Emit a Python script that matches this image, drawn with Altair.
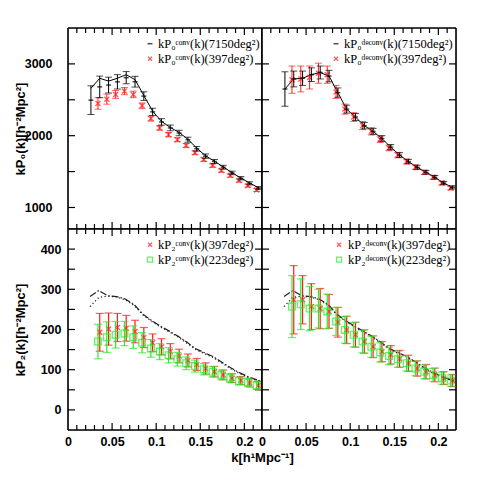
import altair as alt
import pandas as pd

# ---------------- data ----------------
K_BLACK = [0.026, 0.036, 0.046, 0.056, 0.066, 0.076, 0.086, 0.096, 0.106, 0.116,
           0.126, 0.136, 0.146, 0.156, 0.166, 0.176, 0.186, 0.196, 0.206, 0.216]
K_RED = [0.034, 0.044, 0.054, 0.064, 0.074, 0.084, 0.094, 0.104, 0.114, 0.124,
         0.134, 0.144, 0.154, 0.164, 0.174, 0.184, 0.194, 0.204, 0.214]
K_RED2 = [0.036, 0.046, 0.056, 0.066, 0.076, 0.086, 0.096, 0.106, 0.116, 0.126,
          0.136, 0.146, 0.156, 0.166, 0.176, 0.186, 0.196, 0.206, 0.216]
K_GREEN = [0.034, 0.044, 0.054, 0.064, 0.074, 0.084, 0.094, 0.104, 0.114, 0.124,
           0.134, 0.144, 0.154, 0.164, 0.174, 0.184, 0.194, 0.204, 0.214]
K_LINE = [0.025, 0.035, 0.045, 0.055, 0.065, 0.075, 0.085, 0.095, 0.105, 0.115,
          0.125, 0.135, 0.145, 0.155, 0.165, 0.175, 0.185, 0.195, 0.205, 0.215, 0.22]

# top-left: conv monopole
P0_CONV_7150 = [2495, 2680, 2705, 2750, 2808, 2752, 2551, 2332, 2192, 2108,
                2037, 1944, 1818, 1715, 1640, 1561, 1481, 1407, 1336, 1271]
P0_CONV_7150_ERR = [200, 150, 110, 100, 85, 75, 60, 50, 45, 40,
                    38, 35, 32, 30, 28, 26, 25, 23, 22, 20]
P0_CONV_LINE = [2660, 2800, 2760, 2800, 2850, 2780, 2560, 2340, 2200, 2115,
                2045, 1950, 1825, 1720, 1645, 1565, 1485, 1410, 1340, 1275]
P0_CONV_397 = [2449, 2509, 2575, 2621, 2575, 2416, 2238, 2108, 2014, 1944,
               1864, 1762, 1668, 1584, 1514, 1444, 1374, 1304, 1243]
P0_CONV_397_ERR = [80, 70, 55, 50, 45, 40, 35, 32, 30, 28,
                   27, 26, 25, 24, 23, 22, 21, 20, 20]

# top-right: deconv monopole
P0_DECONV_7150 = [2650, 2790, 2800, 2850, 2880, 2830, 2600, 2370, 2260, 2140,
                  2060, 1960, 1840, 1730, 1640, 1560, 1490, 1420, 1340, 1280]
P0_DECONV_7150_ERR = [240, 110, 100, 95, 90, 80, 65, 55, 50, 45,
                      42, 40, 36, 33, 30, 28, 26, 25, 23, 22]
P0_DECONV_397 = [2780, 2790, 2810, 2870, 2850, 2610, 2370, 2260, 2140, 2060,
                 1950, 1830, 1730, 1640, 1560, 1490, 1420, 1340, 1270]
P0_DECONV_397_ERR = [190, 180, 160, 140, 120, 90, 70, 60, 55, 50,
                     45, 40, 38, 35, 33, 30, 28, 26, 25]

# bottom: quadrupole reference curves (7150 deg^2)
P2_LINE_DASH = [282, 297, 284, 282, 276, 262, 238, 222, 208, 196,
                183, 168, 152, 142, 132, 118, 104, 92, 82, 74, 70]
P2_LINE_DOT = [257, 280, 283, 281, 274, 260, 236, 220, 206, 194,
               181, 166, 150, 140, 130, 116, 102, 90, 80, 73, 70]

# bottom-left: conv quadrupole
P2_CONV_397 = [193, 201, 205, 203, 195, 180, 167, 157, 146, 134,
               123, 113, 103, 95, 87, 79, 73, 67, 61]
P2_CONV_397_ERR = [47, 40, 35, 32, 28, 25, 22, 20, 19, 17,
                   16, 15, 14, 13, 12, 11, 10, 10, 10]
P2_CONV_223 = [170, 181, 187, 190, 181, 167, 153, 145, 136, 126,
               116, 109, 101, 95, 87, 79, 72, 69, 61]
P2_CONV_223_ERR = [43, 38, 33, 30, 28, 25, 22, 20, 19, 17,
                   16, 15, 14, 13, 12, 11, 10, 10, 10]

# bottom-right: deconv quadrupole
P2_DECONV_397 = [274, 274, 257, 252, 245, 218, 199, 187, 170, 157,
                 145, 137, 127, 116, 103, 95, 87, 79, 73]
P2_DECONV_397_ERR = [85, 60, 57, 50, 42, 37, 34, 31, 29, 27,
                     25, 23, 21, 20, 19, 18, 17, 16, 15]
P2_DECONV_223 = [257, 263, 252, 252, 245, 220, 199, 187, 170, 157,
                 143, 134, 126, 116, 103, 95, 87, 79, 73]
P2_DECONV_223_ERR = [77, 63, 55, 48, 43, 35, 33, 30, 28, 26,
                     24, 22, 20, 19, 18, 17, 16, 15, 14]

# axes / ticks
X_DOMAIN = [0, 0.22]
Y_TOP_DOMAIN = [700, 3500]
Y_BOT_DOMAIN = [-50, 450]
X_LABELS = [0, 0.05, 0.1, 0.15, 0.2]
X_TICKS = [0.01, 0.02, 0.03, 0.04, 0.05, 0.06, 0.07, 0.08, 0.09, 0.10, 0.11,
           0.12, 0.13, 0.14, 0.15, 0.16, 0.17, 0.18, 0.19, 0.20, 0.21]
Y_TOP_LABELS = [1000, 2000, 3000]
Y_TOP_TICKS = [1000, 1500, 2000, 2500, 3000]
Y_BOT_LABELS = [0, 100, 200, 300, 400]
Y_BOT_TICKS = [0, 50, 100, 150, 200, 250, 300, 350, 400]

LEG_TL = ["kP₀ᶜᵒⁿᵛ(k)(7150deg²)", "kP₀ᶜᵒⁿᵛ(k)(397deg²)"]
LEG_TR = ["kP₀ᵈᵉᶜᵒⁿᵛ(k)(7150deg²)", "kP₀ᵈᵉᶜᵒⁿᵛ(k)(397deg²)"]
LEG_BL = ["kP₂ᶜᵒⁿᵛ(k)(397deg²)", "kP₂ᶜᵒⁿᵛ(k)(223deg²)"]
LEG_BR = ["kP₂ᵈᵉᶜᵒⁿᵛ(k)(397deg²)", "kP₂ᵈᵉᶜᵒⁿᵛ(k)(223deg²)"]
Y_TITLE_TOP = "kP₀(k)[h⁻²Mpc²]"
Y_TITLE_BOT = "kP₂(k)[h⁻²Mpc²]"
X_TITLE = "k[h¹Mpc⁻¹]"

# ---------------- styling ----------------
W, H = 194, 201
RED = "#ff1a1a"
GREEN = "#22ee22"
AX_FONT = "Liberation Sans"
LEG_FONT = "Liberation Serif"
X_MARK = "M-1,-1L1,1M-1,1L1,-1"

xs = alt.Scale(domain=X_DOMAIN, nice=False, zero=False)


def X(field, xa):
    return alt.X(f"{field}:Q", scale=xs, axis=xa)


def Y(field, ys, ya):
    return alt.Y(f"{field}:Q", scale=ys, axis=ya)


def errbars(k, v, e, color, ys, xa, ya, sw=1.0, capw=7):
    df = pd.DataFrame({"k": k, "v": v, "e": e})
    base = alt.Chart(df).transform_calculate(lo="datum.v - datum.e", hi="datum.v + datum.e")
    rule = base.mark_rule(color=color, strokeWidth=sw, clip=True).encode(
        x=X("k", xa), y=Y("lo", ys, ya), y2="hi:Q")
    lo = base.mark_tick(color=color, orient="horizontal", size=capw, thickness=sw, clip=True).encode(
        x=X("k", xa), y=Y("lo", ys, ya))
    hi = base.mark_tick(color=color, orient="horizontal", size=capw, thickness=sw, clip=True).encode(
        x=X("k", xa), y=Y("hi", ys, ya))
    return [rule, lo, hi]


def markers(k, v, kind, color, ys, xa, ya):
    df = pd.DataFrame({"k": k, "v": v})
    if kind == "dash":
        return alt.Chart(df).mark_tick(color=color, orient="horizontal", size=5, thickness=1.5,
                                       clip=True).encode(x=X("k", xa), y=Y("v", ys, ya))
    if kind == "x":
        return alt.Chart(df).mark_point(shape=X_MARK, color=color, filled=False, size=25,
                                        strokeWidth=1.4, clip=True).encode(x=X("k", xa), y=Y("v", ys, ya))
    return alt.Chart(df).mark_point(shape="square", color=color, filled=False, size=45,
                                    strokeWidth=1.3, clip=True).encode(x=X("k", xa), y=Y("v", ys, ya))


def line(k, v, ys, xa, ya, dash=None, color="black", sw=1.0):
    df = pd.DataFrame({"k": k, "v": v})
    kw = dict(color=color, strokeWidth=sw, clip=True)
    if dash:
        kw["strokeDash"] = dash
    return alt.Chart(df).mark_line(**kw).encode(x=X("k", xa), y=Y("v", ys, ya))


def frame_ticks(ys, yticks, xa, ya):
    out = []
    major = [t for t in X_TICKS if abs(t / 0.05 - round(t / 0.05)) < 1e-6]
    minor = [t for t in X_TICKS if t not in major]
    for vals, ln in ((minor, 5), (major, 7)):
        d = pd.DataFrame({"t": vals})
        out.append(alt.Chart(d).mark_rule(color="black", strokeWidth=1.2).encode(
            x=X("t", xa), y=alt.value(H), y2=alt.value(H - ln)))
        out.append(alt.Chart(d).mark_rule(color="black", strokeWidth=1.2).encode(
            x=X("t", xa), y=alt.value(0), y2=alt.value(ln)))
    d = pd.DataFrame({"t": yticks})
    out.append(alt.Chart(d).mark_rule(color="black", strokeWidth=1.2).encode(
        y=Y("t", ys, ya), x=alt.value(0), x2=alt.value(7)))
    out.append(alt.Chart(d).mark_rule(color="black", strokeWidth=1.2).encode(
        y=Y("t", ys, ya), x=alt.value(W - 7), x2=alt.value(W)))
    # frame around the panel
    fr = pd.DataFrame({"side": ["frame"]})
    out.append(alt.Chart(fr).mark_rule(color="black", strokeWidth=1.6).encode(
        x=alt.value(0), y=alt.value(0), y2=alt.value(H)))
    out.append(alt.Chart(fr).mark_rule(color="black", strokeWidth=1.6).encode(
        x=alt.value(W), y=alt.value(0), y2=alt.value(H)))
    out.append(alt.Chart(fr).mark_rule(color="black", strokeWidth=1.6).encode(
        y=alt.value(0), x=alt.value(0), x2=alt.value(W)))
    out.append(alt.Chart(fr).mark_rule(color="black", strokeWidth=1.6).encode(
        y=alt.value(H), x=alt.value(0), x2=alt.value(W)))
    return out


def legend(labels, kinds, colors, mx, tx):
    out = []
    for i, (lab, kind, col) in enumerate(zip(labels, kinds, colors)):
        yy = 15.7 + 15 * i
        d = pd.DataFrame({"label": [lab]})
        out.append(alt.Chart(d).mark_text(align="left", baseline="middle", font=LEG_FONT,
                                          fontSize=12.5, color="black").encode(
            x=alt.value(tx), y=alt.value(yy), text="label:N"))
        if kind == "dash":
            out.append(alt.Chart(d).mark_tick(color=col, orient="horizontal", size=5, thickness=1.5).encode(
                x=alt.value(mx), y=alt.value(yy)))
        elif kind == "x":
            out.append(alt.Chart(d).mark_point(shape=X_MARK, color=col, filled=False, size=16,
                                               strokeWidth=1.3).encode(x=alt.value(mx), y=alt.value(yy)))
        else:
            out.append(alt.Chart(d).mark_point(shape="square", color=col, filled=False, size=25,
                                               strokeWidth=1.2).encode(x=alt.value(mx), y=alt.value(yy)))
    return out


def y_axis(values, title, pad, tpad):
    return alt.Axis(values=values, format="d", ticks=False, domain=False, grid=False, labelFlush=False,
                    labelFont=AX_FONT, labelFontWeight="bold", labelFontSize=12.5, labelColor="black",
                    labelPadding=pad, minExtent=38, maxExtent=38,
                    title=title, titleFont=AX_FONT, titleFontWeight="bold", titleFontSize=13,
                    titleColor="black", titlePadding=tpad)


def x_axis(title=None):
    kw = dict(values=X_LABELS, format="~g", ticks=False, domain=False, grid=False, labelFlush=False,
              labelFont=AX_FONT, labelFontWeight="bold", labelFontSize=12.5, labelColor="black",
              labelPadding=5, labelOverlap=False)
    if title:
        kw.update(title=title, titleFont=AX_FONT, titleFontWeight="bold", titleFontSize=13,
                  titleColor="black", titlePadding=4, titleX=W)
    else:
        kw["title"] = None
    return alt.Axis(**kw)


# ---------------- panels ----------------
ys_top = alt.Scale(domain=Y_TOP_DOMAIN, nice=False, zero=False)
ys_bot = alt.Scale(domain=Y_BOT_DOMAIN, nice=False, zero=False)

# top-left
xa, ya = None, y_axis(Y_TOP_LABELS, Y_TITLE_TOP, 16, 3)
tl_layers = frame_ticks(ys_top, Y_TOP_TICKS, xa, ya)
tl_layers += [line(K_BLACK, P0_CONV_LINE, ys_top, xa, ya)]
tl_layers += errbars(K_RED, P0_CONV_397, P0_CONV_397_ERR, RED, ys_top, xa, ya)
tl_layers += [markers(K_RED, P0_CONV_397, "x", RED, ys_top, xa, ya)]
tl_layers += errbars(K_BLACK, P0_CONV_7150, P0_CONV_7150_ERR, "black", ys_top, xa, ya)
tl_layers += [markers(K_BLACK, P0_CONV_7150, "dash", "black", ys_top, xa, ya)]
tl_layers += legend(LEG_TL, ["dash", "x"], ["black", RED], 82, 90)
tl = alt.layer(*tl_layers).properties(width=W, height=H)

# top-right
xa, ya = None, None
tr_layers = frame_ticks(ys_top, Y_TOP_TICKS, xa, ya)
tr_layers += [line(K_BLACK, P0_DECONV_7150, ys_top, xa, ya)]
tr_layers += errbars(K_RED, P0_DECONV_397, P0_DECONV_397_ERR, RED, ys_top, xa, ya)
tr_layers += [markers(K_RED, P0_DECONV_397, "x", RED, ys_top, xa, ya)]
tr_layers += errbars(K_BLACK, P0_DECONV_7150, P0_DECONV_7150_ERR, "black", ys_top, xa, ya)
tr_layers += [markers(K_BLACK, P0_DECONV_7150, "dash", "black", ys_top, xa, ya)]
tr_layers += legend(LEG_TR, ["dash", "x"], ["black", RED], 74, 82)
tr = alt.layer(*tr_layers).properties(width=W, height=H)

# bottom-left
xa, ya = x_axis(X_TITLE), y_axis(Y_BOT_LABELS, Y_TITLE_BOT, 7, 3)
bl_layers = frame_ticks(ys_bot, Y_BOT_TICKS, xa, ya)
bl_layers += [line(K_LINE, P2_LINE_DASH, ys_bot, xa, ya, dash=[7, 2, 1.5, 2], color="#222222", sw=1.2),
              line(K_LINE, P2_LINE_DOT, ys_bot, xa, ya, dash=[1.2, 2.5], color="#222222", sw=1.3)]
bl_layers += errbars(K_RED2, P2_CONV_397, P2_CONV_397_ERR, RED, ys_bot, xa, ya, sw=1.2, capw=8)
bl_layers += [markers(K_RED2, P2_CONV_397, "x", RED, ys_bot, xa, ya)]
bl_layers += errbars(K_GREEN, P2_CONV_223, P2_CONV_223_ERR, GREEN, ys_bot, xa, ya, sw=1.2, capw=8)
bl_layers += [markers(K_GREEN, P2_CONV_223, "sq", GREEN, ys_bot, xa, ya)]
bl_layers += legend(LEG_BL, ["x", "sq"], [RED, GREEN], 82, 90)
bl = alt.layer(*bl_layers).properties(width=W, height=H)

# bottom-right
xa, ya = x_axis(), None
br_layers = frame_ticks(ys_bot, Y_BOT_TICKS, xa, ya)
br_layers += [line(K_LINE, P2_LINE_DASH, ys_bot, xa, ya, dash=[7, 2, 1.5, 2], color="#222222", sw=1.2),
              line(K_LINE, P2_LINE_DOT, ys_bot, xa, ya, dash=[1.2, 2.5], color="#222222", sw=1.3)]
br_layers += errbars(K_RED2, P2_DECONV_397, P2_DECONV_397_ERR, RED, ys_bot, xa, ya, sw=1.2, capw=8)
br_layers += [markers(K_RED2, P2_DECONV_397, "x", RED, ys_bot, xa, ya)]
br_layers += errbars(K_GREEN, P2_DECONV_223, P2_DECONV_223_ERR, GREEN, ys_bot, xa, ya, sw=1.2, capw=8)
br_layers += [markers(K_GREEN, P2_DECONV_223, "sq", GREEN, ys_bot, xa, ya)]
br_layers += legend(LEG_BR, ["x", "sq"], [RED, GREEN], 77, 86)
br = alt.layer(*br_layers).properties(width=W, height=H)

chart = alt.concat(tl, tr, bl, br, columns=2, spacing=0, bounds="flush").properties(
    padding={"left": 5, "top": 18, "right": 5, "bottom": 5}
).configure_view(stroke="#000000", strokeWidth=1.5).configure(background="white")

chart.save("out.html", embed_options={"renderer": "svg", "actions": False})
